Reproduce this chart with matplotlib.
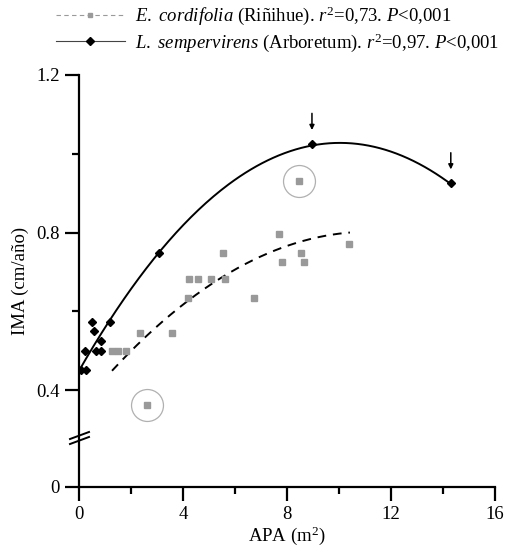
import numpy as np
import matplotlib
matplotlib.use("Agg")
import matplotlib.pyplot as plt
from matplotlib.lines import Line2D
from matplotlib.path import Path
from matplotlib.scale import FuncScale
from matplotlib.ticker import FixedLocator, FixedFormatter
import matplotlib.transforms as mtransforms

plt.rcParams['font.family'] = ['Liberation Serif', 'DejaVu Serif']
plt.rcParams['mathtext.fontset'] = 'custom'
plt.rcParams['mathtext.rm'] = 'Liberation Serif'
plt.rcParams['mathtext.it'] = 'Liberation Serif:italic'

# ---- data ----
ls_x = [0.07, 0.27, 0.22, 0.64, 0.86, 0.86, 0.58, 0.51, 1.19, 3.09, 8.96, 14.30]
ls_y = [0.45, 0.45, 0.50, 0.50, 0.50, 0.524, 0.549, 0.574, 0.574, 0.749, 1.025, 0.925]

ec_x = [1.28, 1.49, 1.81, 2.36, 3.58, 4.20, 4.24, 4.59, 5.06, 5.62, 5.54, 6.73,
        7.70, 7.81, 8.54, 8.65, 10.40, 8.45, 2.63]
ec_y = [0.50, 0.50, 0.50, 0.544, 0.544, 0.635, 0.681, 0.681, 0.681, 0.681, 0.749, 0.635,
        0.795, 0.726, 0.749, 0.726, 0.772, 0.931, 0.363]

# circled outliers (E. cordifolia)
outlier_idx = [17, 18]
# arrowed points (L. sempervirens)
arrow_idx = [10, 11]

# quadratic fits (c2, c1, c0) and x ranges
ls_fit = [-0.005744, 0.1153, 0.449]
ls_range = [0.0, 14.3]
ec_fit = [-0.003610, 0.08056, 0.3525]
ec_range = [1.27, 10.42]

xticks = [0, 4, 8, 12, 16]
xminor = [2, 6, 10, 14]
yticks = [0, 0.4, 0.8, 1.2]
yticklabels = ["0", "0.4", "0.8", "1.2"]
yminor = [0.6, 1.0]

label_ec = r'$\mathit{E.\ cordifolia}$ (Riñihue). $\mathit{r}^{2}$=0,73. $\mathit{P}$<0,001'
label_ls = r'$\mathit{L.\ sempervirens}$ (Arboretum). $\mathit{r}^{2}$=0,97. $\mathit{P}$<0,001'

# ---- broken y scale ----
B = 0.28     # break value
C = 0.1546   # where 0 maps to


def fwd(v):
    v = np.asarray(v, dtype=float)
    return np.where(v >= B, v, C + v * (B - C) / B)


def inv(u):
    u = np.asarray(u, dtype=float)
    return np.where(u >= B, u, (u - C) * B / (B - C))


FS = 13.5

fig = plt.figure(figsize=(5.10, 5.54), dpi=100)
ax = fig.add_axes([79 / 510, 1 - 486.7 / 554, (495 - 79) / 510, (486.7 - 75) / 554])
ax.set_yscale(FuncScale(ax, (fwd, inv)))
ax.set_xlim(0, 16)
ax.set_ylim(0, 1.2)

# fits
xx = np.linspace(ls_range[0], ls_range[1], 200)
ax.plot(xx, np.polyval(ls_fit, xx), color='black', lw=1.4, zorder=2)
xx2 = np.linspace(ec_range[0], ec_range[1], 200)
ax.plot(xx2, np.polyval(ec_fit, xx2), color='black', lw=1.4, ls=(0, (4.5, 3.5)), zorder=2)

# points
ax.plot(ec_x, ec_y, ls='none', marker='s', ms=4.0, color='#999999', mec='#999999', zorder=3)
ax.plot(ls_x, ls_y, ls='none', marker='D', ms=3.8, color='black', zorder=4)

# circles around outliers
ax.plot([ec_x[i] for i in outlier_idx], [ec_y[i] for i in outlier_idx], ls='none',
        marker='o', ms=23, mfc='none', mec='#b0b0b0', mew=0.9, zorder=2)

# arrows
for i in arrow_idx:
    ax.annotate('', xy=(ls_x[i], ls_y[i]), xytext=(0, 22), textcoords='offset points',
                xycoords='data',
                arrowprops=dict(arrowstyle='-|>', color='black', lw=1.1,
                                mutation_scale=7, shrinkA=0, shrinkB=10))

# spines and ticks
for s in ['top', 'right']:
    ax.spines[s].set_visible(False)
for s in ['left', 'bottom']:
    ax.spines[s].set_linewidth(1.6)
ax.xaxis.set_major_locator(FixedLocator(xticks))
ax.xaxis.set_minor_locator(FixedLocator(xminor))
ax.yaxis.set_major_locator(FixedLocator(yticks))
ax.yaxis.set_major_formatter(FixedFormatter(yticklabels))
ax.yaxis.set_minor_locator(FixedLocator(yminor))
ax.tick_params(which='major', direction='out', length=10, width=1.6, labelsize=FS, pad=4)
ax.tick_params(which='minor', direction='out', length=5, width=1.6)

ax.set_xlabel(r'APA (m$^{2}$)', fontsize=FS, labelpad=1)
ax.set_ylabel('IMA (cm/año)', fontsize=FS, labelpad=5)

# break marks on y axis (two slanted strokes)
brk = Path([(-1.0, -0.37), (1.0, 0.37)], [Path.MOVETO, Path.LINETO])
for dy in (-2.2, 2.2):
    t = mtransforms.offset_copy(ax.transData, fig=fig, x=0, y=dy, units='dots')
    ax.plot([0], [B], ls='none', marker=brk, ms=15, mew=1.4, color='black',
            transform=t, clip_on=False, zorder=5)

# legend
h_ec = Line2D([], [], color='#9a9a9a', lw=0.8, ls=(0, (4, 3)), marker='s', ms=3.5,
              mfc='#9a9a9a', mec='#9a9a9a')
h_ls = Line2D([], [], color='#444444', lw=0.8, marker='D', ms=3.6, mfc='black', mec='black')
fig.legend([h_ec, h_ls], [label_ec, label_ls], loc='upper left',
           bbox_to_anchor=(52 / 510, 1 - 1 / 554), frameon=False, fontsize=FS,
           handlelength=3.7, handletextpad=0.55, labelspacing=0.2, borderpad=0.2,
           borderaxespad=0)

fig.savefig('out.png', dpi=100)
